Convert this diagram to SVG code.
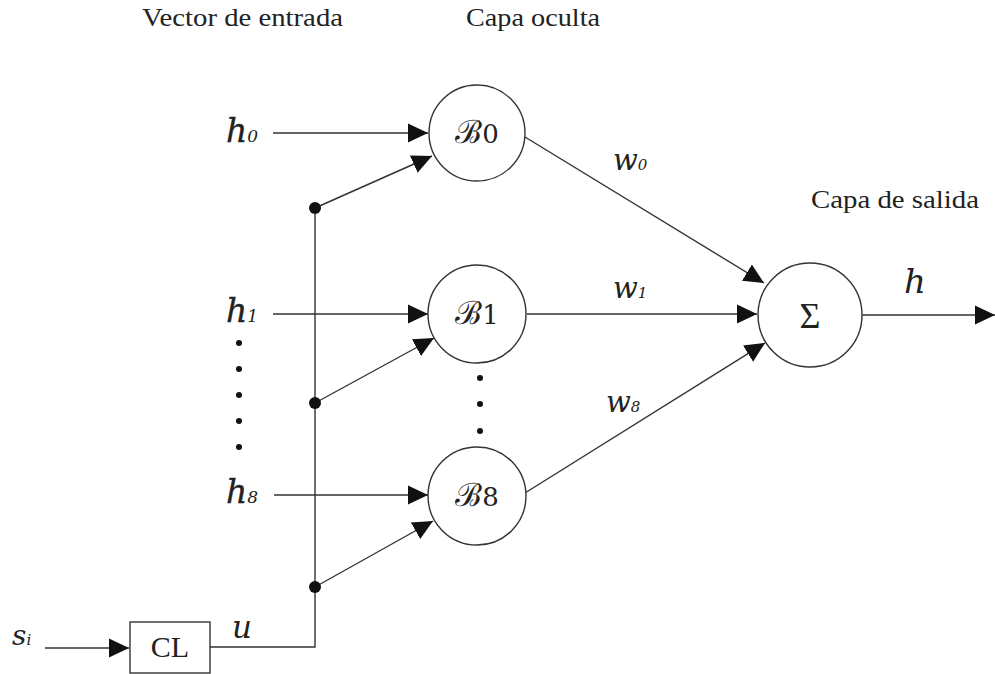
<svg xmlns="http://www.w3.org/2000/svg" width="995" height="674" viewBox="0 0 995 674">
<defs>
<marker id="arr" markerUnits="userSpaceOnUse" markerWidth="20" markerHeight="20" refX="20" refY="10" orient="auto" viewBox="0 0 20 20">
<path d="M0,0.5 L20,10 L0,19.5 z" fill="#111"/>
</marker>
<style>
.ln{stroke:#333;stroke-width:1.4;fill:none}
.nd{stroke:#333;stroke-width:1.4;fill:#fff}
.t{font-family:"Liberation Serif","Times New Roman",serif;fill:#222}
.it{font-family:"DejaVu Serif","Liberation Serif",serif;font-style:italic;fill:#222}
.hb{stroke:#222;stroke-width:0.4}
.sc{font-family:"DejaVu Serif","Liberation Serif",serif;fill:#222}
.dot{fill:#111}
</style>
</defs>
<rect width="995" height="674" fill="#fff"/>

<g id="titles">
<text class="t" x="142" y="26" font-size="26" textLength="201" lengthAdjust="spacingAndGlyphs">Vector de entrada</text>
<text class="t" x="466" y="26" font-size="26" textLength="134" lengthAdjust="spacingAndGlyphs">Capa oculta</text>
<text class="t" x="811" y="208" font-size="25" textLength="168" lengthAdjust="spacingAndGlyphs">Capa de salida</text>
</g>

<g id="connectors">
<line class="ln" x1="273" y1="133" x2="428" y2="133" marker-end="url(#arr)"/>
<line class="ln" x1="273" y1="314" x2="428" y2="314" marker-end="url(#arr)"/>
<line class="ln" x1="274" y1="495" x2="428" y2="495" marker-end="url(#arr)"/>
<polyline class="ln" points="315,208 315,647 210,647"/>
<line class="ln" x1="315" y1="208" x2="432" y2="156" marker-end="url(#arr)"/>
<line class="ln" x1="315" y1="403" x2="434" y2="338" marker-end="url(#arr)"/>
<line class="ln" x1="315" y1="587" x2="433" y2="521" marker-end="url(#arr)"/>
<line class="ln" x1="45" y1="648" x2="129" y2="648" marker-end="url(#arr)"/>
<line class="ln" x1="525" y1="137" x2="764" y2="283" marker-end="url(#arr)"/>
<line class="ln" x1="527" y1="314" x2="757" y2="314" marker-end="url(#arr)"/>
<line class="ln" x1="525" y1="493" x2="765" y2="343" marker-end="url(#arr)"/>
<line class="ln" x1="862" y1="315" x2="995" y2="315" marker-end="url(#arr)"/>
<circle class="dot" cx="315" cy="208" r="6"/>
<circle class="dot" cx="315" cy="403" r="6"/>
<circle class="dot" cx="315" cy="587" r="6"/>
</g>

<g id="dots">
<circle class="dot" cx="239" cy="343" r="3"/>
<circle class="dot" cx="239" cy="369" r="3"/>
<circle class="dot" cx="239" cy="395" r="3"/>
<circle class="dot" cx="239" cy="421" r="3"/>
<circle class="dot" cx="239" cy="447" r="3"/>
<circle class="dot" cx="480" cy="378" r="3"/>
<circle class="dot" cx="480" cy="404" r="3"/>
<circle class="dot" cx="480" cy="431" r="3"/>
</g>

<g id="labels">
<text class="it" x="226" y="142" font-size="33"><tspan class="hb">h</tspan><tspan font-size="17">0</tspan></text>
<text class="it" x="226" y="322" font-size="33"><tspan class="hb">h</tspan><tspan font-size="17">1</tspan></text>
<text class="it" x="226" y="503" font-size="33"><tspan class="hb">h</tspan><tspan font-size="17">8</tspan></text>
<text class="it" x="613" y="170" font-size="29">w<tspan font-size="15">0</tspan></text>
<text class="it" x="613" y="298" font-size="29">w<tspan font-size="15">1</tspan></text>
<text class="it" x="606" y="412" font-size="29">w<tspan font-size="15">8</tspan></text>
<text class="it" x="904" y="293" font-size="34">h</text>
<text class="it" x="12" y="645" font-size="28">s<tspan font-size="15">i</tspan></text>
<text class="it" x="232" y="638" font-size="31">u</text>
</g>

<g id="B0">
<circle class="nd" cx="477" cy="133" r="48"/>
<text class="sc" x="477" y="143" font-size="26" text-anchor="middle"><tspan font-size="32">ℬ</tspan>0</text>
</g>
<g id="B1">
<circle class="nd" cx="477" cy="314" r="49"/>
<text class="sc" x="477" y="324" font-size="26" text-anchor="middle"><tspan font-size="32">ℬ</tspan>1</text>
</g>
<g id="B8">
<circle class="nd" cx="477" cy="496" r="49"/>
<text class="sc" x="477" y="506" font-size="26" text-anchor="middle"><tspan font-size="32">ℬ</tspan>8</text>
</g>
<g id="sigma">
<circle class="nd" cx="810" cy="315" r="52"/>
<text class="t" x="810" y="328" font-size="36" text-anchor="middle">Σ</text>
</g>
<g id="CL">
<rect class="nd" x="130" y="622" width="80" height="51"/>
<text class="t" x="170" y="657" font-size="30" text-anchor="middle">CL</text>
</g>
</svg>
